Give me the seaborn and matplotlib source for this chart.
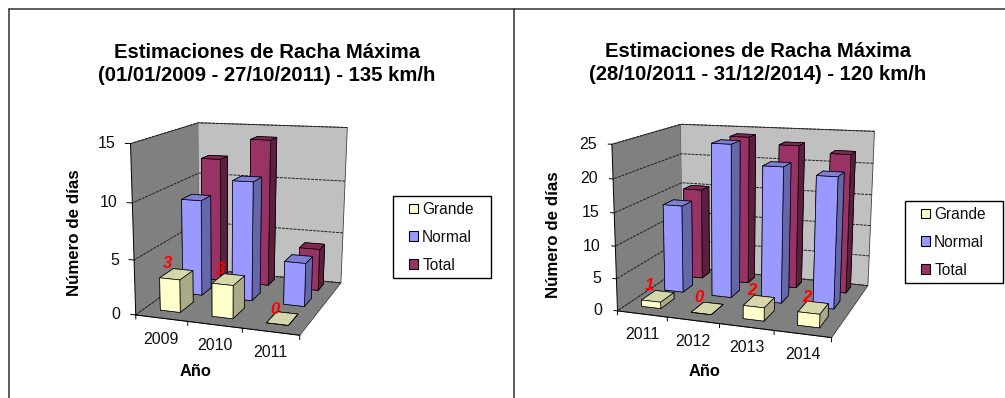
import numpy as np
import seaborn as sns
import matplotlib
matplotlib.use('Agg')
import matplotlib.pyplot as plt
from matplotlib.lines import Line2D
from matplotlib.patches import Patch, Rectangle
from mpl_toolkits.mplot3d import proj3d

sns.set_theme(style="white")
plt.rcParams['font.family'] = ['Liberation Sans', 'DejaVu Sans']

W, H = 1005, 398

series_names = ['Grande', 'Normal', 'Total']

years_a = ['2009', '2010', '2011']
grande_a = [3, 3, 0]
normal_a = [9, 11, 4]
total_a = [12, 14, 4]
zticks_a = [0, 5, 10, 15]

years_b = ['2011', '2012', '2013', '2014']
grande_b = [1, 0, 2, 2]
normal_b = [14, 24, 21, 20]
total_b = [15, 24, 23, 22]
zticks_b = [0, 5, 10, 15, 20, 25]

title_a = 'Estimaciones de Racha Máxima\n(01/01/2009 - 27/10/2011) - 135 km/h'
title_b = 'Estimaciones de Racha Máxima\n(28/10/2011 - 31/12/2014) - 120 km/h'

#where the corners of the 3d box sit in the picture, pixels
#order: floor front-left, floor front-right, floor back-right, floor back-left,
#       top front-left, top back-left, top back-right
corners_a = [(136, 313), (300, 337), (341, 281), (199, 271), (130, 144), (199, 122), (347, 128)]
corners_b = [(618, 308), (832, 340), (868, 283), (682, 270), (611, 145), (682, 123), (874, 132)]

#bar layout inside each category and depth row
bar_w = 0.39
row_mid = [0.68, 1.65, 2.60]
row_d = [0.6, 0.48, 0.4]

#front, top and side colour of each series
palette = sns.color_palette(['#FFFFCC', '#9999FF', '#993366'])
top_cols = sns.color_palette(['#D6D6AB', '#7F7FD4', '#7F2A55'])
side_cols = sns.color_palette(['#AAAA88', '#6666AA', '#5C1F3D'])

fig = plt.figure(figsize=(W/100, H/100), dpi=100, facecolor='white')


def fx(px):
    return px/W


def fy(py):
    return 1 - py/H


def camera_matrix(ax, corners, n, zmax):
    #solve the perspective camera that puts the box corners on those pixels
    unit = [(0, 0, 0), (1, 0, 0), (1, 1, 0), (0, 1, 0), (0, 0, 1), (0, 1, 1), (1, 1, 1)]
    A = []
    for (X, Y, Z), (px, py) in zip(unit, corners):
        u, v = px/W, (H - py)/W
        A.append([X, Y, Z, 1, 0, 0, 0, 0, -u*X, -u*Y, -u*Z, -u])
        A.append([0, 0, 0, 0, X, Y, Z, 1, -v*X, -v*Y, -v*Z, -v])
    P = np.linalg.svd(np.array(A))[2][-1].reshape(3, 4)
    P = P @ np.diag([1/n, 1/3, 1/zmax, 1])
    if P[2] @ np.array([n/2, 1.5, zmax/2, 1]) < 0:
        P = -P
    vl = ax.viewLim
    #depth row: farther from the eye gives a larger value, as mplot3d expects
    return np.array([vl.x0*P[2] + vl.width*P[0],
                     vl.y0*P[2] + vl.height*P[1],
                     [0, 0, 0, -1],
                     P[2]])


def draw_chart(years, grande, normal, total, zticks, title, title_xy, ylab_xy, xlab_xy,
               legend_box, corners, label_off):
    ax = fig.add_axes([0, 0, 1, W/H], projection='3d', computed_zorder=False)
    ax.patch.set_alpha(0)
    n = len(years)
    zmax = zticks[-1]

    ax.set_xlim(0, n, view_margin=0)
    ax.set_ylim(0, 3, view_margin=0)
    ax.set_zlim(0, zmax, view_margin=0)

    M = camera_matrix(ax, corners, n, zmax)
    ax.get_proj = lambda: M

    #walls and floor
    ax.xaxis.set_pane_color('#808080')
    ax.yaxis.set_pane_color('#C0C0C0')
    ax.zaxis.set_pane_color('#808080')
    for a in (ax.xaxis, ax.yaxis, ax.zaxis):
        a.pane.set_edgecolor('#404040')
        a.pane.set_linewidth(0.6)
        a.line.set_color((0, 0, 0, 0))
        a._axinfo['tick']['inward_factor'] = 0
        a._axinfo['tick']['outward_factor'] = 0
    ax.set_xticks([])
    ax.set_yticks([])
    ax.set_zticks(zticks)
    ax.set_zticklabels([])
    ax.zaxis._axinfo['grid'].update(color='#202020', linewidth=0.7, linestyle=(0, (3, 1)))
    ax.grid(True)

    #bars, back row first so the front ones cover them
    z = 3
    for row, vals in reversed(list(enumerate([grande, normal, total]))):
        faces = [top_cols[row], top_cols[row], palette[row], palette[row], side_cols[row], side_cols[row]]
        d = row_d[row]
        for i, v in enumerate(vals):
            art = ax.bar3d(i + 0.5 - bar_w/2, row_mid[row] - d/2, 0, bar_w, d, v, color=faces,
                           shade=False, edgecolor='black', linewidth=0.5)
            art.set_zorder(z)
            z += 1

    #front edge, vertical edge and tick marks
    ax.plot([0, n], [0, 0], [0, 0], color='black', lw=0.7, zorder=2)
    ax.plot([0, 0], [0, 0], [0, zmax], color='black', lw=0.7, zorder=2)
    for i in range(n + 1):
        ax.plot([i, i], [0, 0], [0, -0.025*zmax], color='black', lw=0.7, zorder=2, clip_on=False)
    for t in zticks:
        ax.plot([-0.1*3/n, 0], [0, 0], [t, t], color='black', lw=0.7, zorder=2, clip_on=False)

    def mark(x, y, zv, txt, dx=0, dy=0, **kw):
        px, py, _ = proj3d.proj_transform(x, y, zv, M)
        ax.annotate(txt, (px, py), xytext=(dx*0.72, -dy*0.72), textcoords='offset points',
                    annotation_clip=False, zorder=100, **kw)

    for t in zticks:
        mark(0, 0, t, str(t), dx=-15, ha='right', va='center', fontsize=11.5, color='#101010')
    for i, y in enumerate(years):
        mark(i + 0.5, 0, 0, y, dy=21, ha='center', va='center', fontsize=11.5, color='#101010')
    for i, v in enumerate(grande):
        mark(i + 0.5, row_mid[0] - row_d[0]/2, v, str(v), dx=-2, dy=-label_off, ha='center', va='center',
             fontsize=12, color='red', fontweight='bold', fontstyle='italic')

    fig.text(fx(title_xy[0]), fy(title_xy[1]), title, ha='center', va='center', fontsize=14.6,
             fontweight='bold', color='black', linespacing=1.25)
    fig.text(fx(ylab_xy[0]), fy(ylab_xy[1]), 'Número de días', rotation=90, ha='center', va='center',
             fontsize=12.2, fontweight='bold', color='black')
    fig.text(fx(xlab_xy[0]), fy(xlab_xy[1]), 'Año', ha='center', va='center',
             fontsize=11.8, fontweight='bold', color='black')

    #legend box drawn apart so its padding can differ left and top
    lx0, ly0, lx1, ly1 = legend_box
    fig.add_artist(Rectangle((fx(lx0), fy(ly1)), (lx1 - lx0)/W, (ly1 - ly0)/H, transform=fig.transFigure,
                             facecolor='white', edgecolor='black', linewidth=1.0, zorder=1))
    handles = [Patch(facecolor=palette[i], edgecolor='black', linewidth=0.8) for i in range(3)]
    fig.legend(handles, series_names, loc='upper left', fontsize=11.2, frameon=False,
               handlelength=0.55, handleheight=0.6, handletextpad=0.3, labelspacing=0.82,
               borderpad=0, borderaxespad=0, labelcolor='#101010',
               bbox_to_anchor=(fx(lx0 + 16), fy(ly0 + 6)))
    return ax


draw_chart(years_a, grande_a, normal_a, total_a, zticks_a, title_a, (267, 64), (74, 233), (196, 371),
           (393, 196, 491, 278), corners_a, 15)
draw_chart(years_b, grande_b, normal_b, total_b, zticks_b, title_b, (758, 63), (553, 235), (705, 372),
           (905, 201, 1003, 283), corners_b, 16)

#outer frame of the two panels
for xs, ys in [([9, 9], [9, 398]), ([9, 1005], [9, 9]), ([514, 514], [9, 398])]:
    fig.add_artist(Line2D([fx(v) for v in xs], [fy(v) for v in ys], color='#303030', lw=1.1))

fig.savefig('out.png', dpi=100)
